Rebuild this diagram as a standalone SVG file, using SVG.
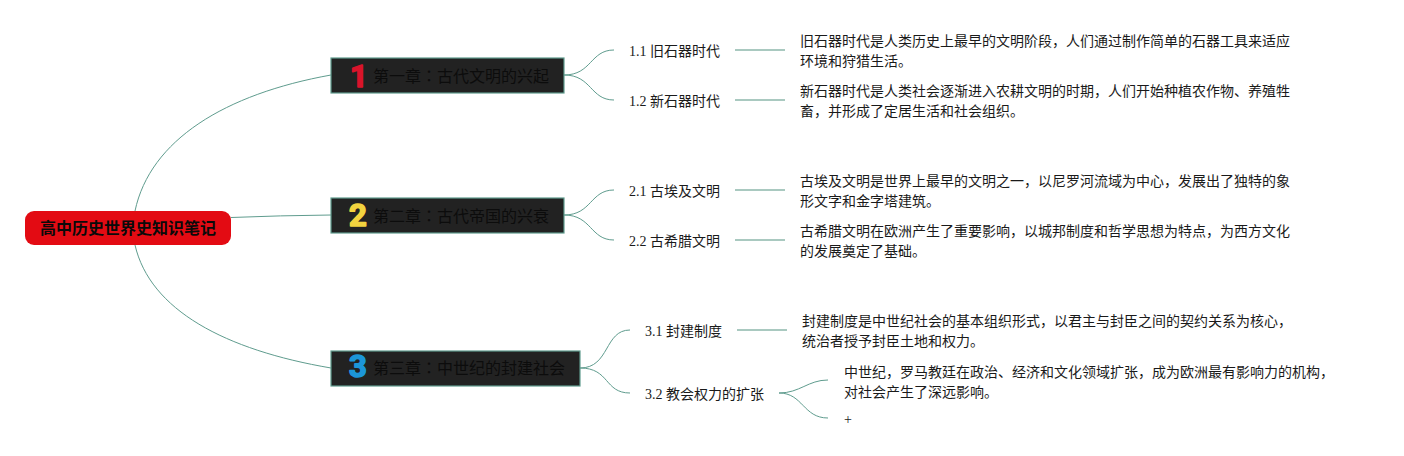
<svg xmlns="http://www.w3.org/2000/svg" width="1404" height="456" viewBox="0 0 1404 456">
<style>
text{font-family:"Liberation Serif","Noto Sans CJK SC",serif;font-size:14px;fill:#1a1a1a}
.root{fill:#e30b13;stroke:none}
.ch{fill:#222222;stroke:#5f9c8e;stroke-width:1.2}
.cht{font-size:16px;fill:#0c0c0c}
.col{font-family:"Noto Sans CJK TC",sans-serif}
.rt{font-size:16px;font-weight:bold;fill:#0a0a0a}
.num{font-family:Roboto,"Liberation Sans",sans-serif;font-weight:bold;font-size:31px;text-anchor:middle;stroke-width:1.6;stroke-linejoin:round}
.c{fill:none;stroke:#5f9c8e;stroke-width:1}
.s{fill:none;stroke:#a9c9c0;stroke-width:2}
</style>
<g id="connectors">
<path class="c" d="M135 211C150 140 225 94 331 75"/>
<path class="c" d="M231 217.500Q280 215.500 331 215"/>
<path class="c" d="M135 245C150 310 225 350 331 368"/>
<path class="c" d="M564 75C592 75 590 50 614 50"/>
<path class="c" d="M564 75C592 75 590 100 614 100"/>
<path class="c" d="M564 215C592 215 590 190 614 190"/>
<path class="c" d="M564 215C592 215 590 240 614 240"/>
<path class="c" d="M580 368C610 368 604 330 630 330"/>
<path class="c" d="M580 368C610 368 604 393 630 393"/>
<path class="c" d="M779 393C800 393 808 380 828 380"/>
<path class="c" d="M779 393C803 393 803 418 828 418"/>
<path class="s" d="M735 50H785"/>
<path class="s" d="M735 100H785"/>
<path class="s" d="M735 190H785"/>
<path class="s" d="M735 240H785"/>
<path class="s" d="M737 330H787"/>
</g>
<g id="root"><rect class="root" x="25" y="211" width="206" height="34" rx="9"/><text class="rt" x="40" y="234">高中历史世界史知识笔记</text></g>
<g id="ch1"><rect class="ch" x="331" y="58" width="233" height="35"/><text class="num" x="359" y="87" style="fill:#d9142b;stroke:#d9142b">1</text><text class="cht" x="373" y="82">第一章<tspan class="col">：</tspan>古代文明的兴起</text></g>
<g id="ch2"><rect class="ch" x="331" y="198" width="233" height="35"/><text class="num" x="358" y="226" style="fill:#f2d33f;stroke:#f2d33f">2</text><text class="cht" x="373" y="222">第二章<tspan class="col">：</tspan>古代帝国的兴衰</text></g>
<g id="ch3"><rect class="ch" x="331" y="351" width="249" height="35"/><text class="num" x="358" y="377" style="fill:#1c96d8;stroke:#1c96d8">3</text><text class="cht" x="373" y="374">第三章<tspan class="col">：</tspan>中世纪的封建社会</text></g>
<g id="n11"><text x="629" y="56">1.1 旧石器时代</text></g>
<g id="n12"><text x="629" y="106">1.2 新石器时代</text></g>
<g id="n21"><text x="629" y="196">2.1 古埃及文明</text></g>
<g id="n22"><text x="629" y="246">2.2 古希腊文明</text></g>
<g id="n31"><text x="645" y="336">3.1 封建制度</text></g>
<g id="n32"><text x="645" y="399">3.2 教会权力的扩张</text></g>
<g id="d11"><text x="800" y="46">旧石器时代是人类历史上最早的文明阶段，人们通过制作简单的石器工具来适应</text><text x="800" y="66">环境和狩猎生活。</text></g>
<g id="d12"><text x="800" y="96">新石器时代是人类社会逐渐进入农耕文明的时期，人们开始种植农作物、养殖牲</text><text x="800" y="116">畜，并形成了定居生活和社会组织。</text></g>
<g id="d21"><text x="800" y="186">古埃及文明是世界上最早的文明之一，以尼罗河流域为中心，发展出了独特的象</text><text x="800" y="206">形文字和金字塔建筑。</text></g>
<g id="d22"><text x="800" y="236">古希腊文明在欧洲产生了重要影响，以城邦制度和哲学思想为特点，为西方文化</text><text x="800" y="256">的发展奠定了基础。</text></g>
<g id="d31"><text x="802" y="326">封建制度是中世纪社会的基本组织形式，以君主与封臣之间的契约关系为核心，</text><text x="802" y="346">统治者授予封臣土地和权力。</text></g>
<g id="d32"><text x="844" y="377">中世纪，罗马教廷在政治、经济和文化领域扩张，成为欧洲最有影响力的机构，</text><text x="844" y="397">对社会产生了深远影响。</text></g>
<g id="d33"><text x="844" y="424">+</text></g>
</svg>
